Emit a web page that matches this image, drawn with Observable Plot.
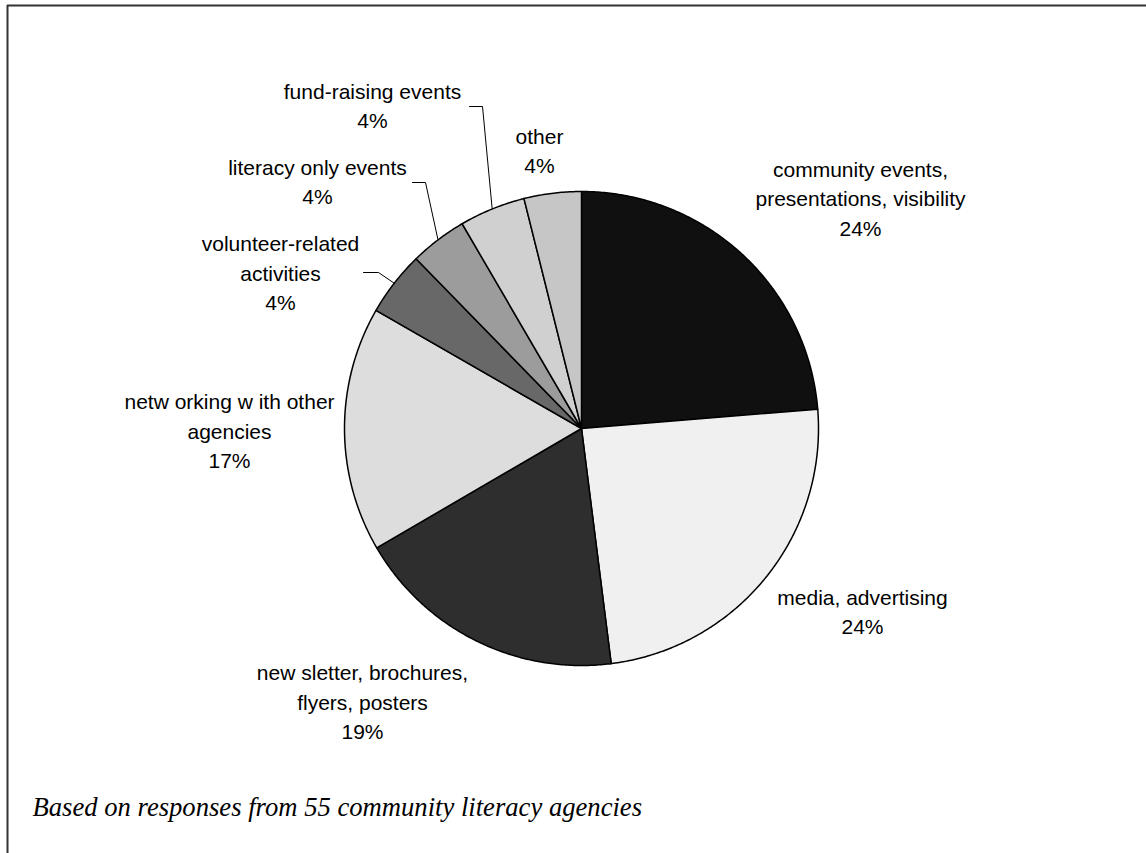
<!DOCTYPE html>
<html>
<head>
<meta charset="utf-8">
<script src="https://cdn.jsdelivr.net/npm/d3@7"></script>
<script src="https://cdn.jsdelivr.net/npm/@observablehq/plot@0.6"></script>
<style>
  html, body { margin: 0; padding: 0; background: #fff; }
  #chart svg { display: block; }
</style>
</head>
<body>
<div id="chart"></div>
<script>
// ---- data ----
const categories = [
  "community events, presentations, visibility",
  "media, advertising",
  "newsletter, brochures, flyers, posters",
  "networking with other agencies",
  "volunteer-related activities",
  "literacy only events",
  "fund-raising events",
  "other"
];
// shares of responses (percent)
const shares = [23.7, 24.3, 18.6, 16.7, 4.4, 3.9, 4.5, 3.9];
// printed percentage labels
const pctLabels = ["24%", "24%", "19%", "17%", "4%", "4%", "4%", "4%"];
// label text as printed (line breaks as in the chart)
const labelText = [
  "community events,\npresentations, visibility",
  "media, advertising",
  "new sletter, brochures,\nflyers, posters",
  "netw orking w ith other\nagencies",
  "volunteer-related\nactivities",
  "literacy only events",
  "fund-raising events",
  "other"
];
const captionText = "Based on responses from 55 community literacy agencies";

// ---- layout / style (kept apart from data) ----
const W = 1146, H = 853;
const CX = 581, CY = 428, R = 237;
const fills = ["#101010", "#f0f0f0", "#2e2e2e", "#dddddd", "#686868", "#9c9c9c", "#d0d0d0", "#c6c6c6"];
const labelX = [860, 862, 362, 229, 280, 317, 372, 539];
const labelY = [196.3, 609.8, 699.8, 428.8, 270.8, 179.8, 103.3, 148.3];
// leader lines: [start, elbow] for slices that have one (end is on the rim at mid-angle)
const leaders = [
  {i: 4, start: [363, 272], elbow: [378, 272]},
  {i: 5, start: [412, 182], elbow: [425, 182]},
  {i: 6, start: [469, 106], elbow: [482, 106]}
];

// ---- geometry from data ----
const arcs = d3.pie().sort(null).value(d => d)(shares);
const polar = (a, r) => ({x: CX + r * Math.sin(a), y: CY - r * Math.cos(a)});

const sliceMarks = arcs.map((a, i) => {
  const pts = [{x: CX, y: CY}];
  const n = Math.max(2, Math.ceil((a.endAngle - a.startAngle) / (Math.PI / 360)));
  for (let k = 0; k <= n; k++) {
    const t = a.startAngle + (a.endAngle - a.startAngle) * k / n;
    pts.push(polar(t, R));
  }
  return Plot.line(pts, {
    x: "x", y: "y", curve: "linear-closed",
    fill: fills[i], stroke: "#000", strokeWidth: 1.5, strokeLinejoin: "round"
  });
});

const leaderMarks = leaders.map(l => {
  const a = arcs[l.i];
  const end = polar((a.startAngle + a.endAngle) / 2, R);
  const pts = [{x: l.start[0], y: l.start[1]}, {x: l.elbow[0], y: l.elbow[1]}, end];
  return Plot.line(pts, {x: "x", y: "y", stroke: "#000", strokeWidth: 1});
});

const labels = categories.map((c, i) => ({
  name: c,
  text: labelText[i] + "\n" + pctLabels[i],
  x: labelX[i],
  y: labelY[i]
}));

const chart = Plot.plot({
  width: W,
  height: H,
  margin: 0,
  x: {domain: [0, W], range: [0, W], axis: null},
  y: {domain: [0, H], range: [0, H], axis: null},
  style: {background: "#fff"},
  marks: [
    // outer frame (top and left edges visible)
    Plot.ruleY([5], {x1: 7, x2: W, stroke: "#333", strokeWidth: 2}),
    Plot.ruleX([7], {y1: 5, y2: H, stroke: "#333", strokeWidth: 2}),
    ...sliceMarks,
    ...leaderMarks,
    Plot.text(labels, {
      x: "x", y: "y", text: "text",
      fontSize: 21, lineHeight: 29.5 / 21,
      fontFamily: "'Liberation Sans', Arial, sans-serif",
      textAnchor: "middle", fill: "#000"
    }),
    Plot.text([captionText], {
      x: () => 32, y: () => 821, text: d => d,
      lineAnchor: "bottom", dy: 0,
      fontSize: 20, fontStyle: "italic",
      fontFamily: "'Liberation Serif', 'Times New Roman', serif",
      textAnchor: "start", fill: "#000", className: "cap"
    })
  ]
});
document.getElementById("chart").appendChild(chart);

// scale caption font so it spans the printed width
const capG = chart.querySelector("g.cap");
const cap = capG && capG.querySelector("text");
if (cap) {
  const w = cap.getComputedTextLength();
  const target = 610;
  const fs = 20 * target / w;
  capG.setAttribute("font-size", fs.toFixed(2));
  cap.setAttribute("font-size", fs.toFixed(2));
  cap.setAttribute("dy", "-0.22em");
}
</script>
</body>
</html>
